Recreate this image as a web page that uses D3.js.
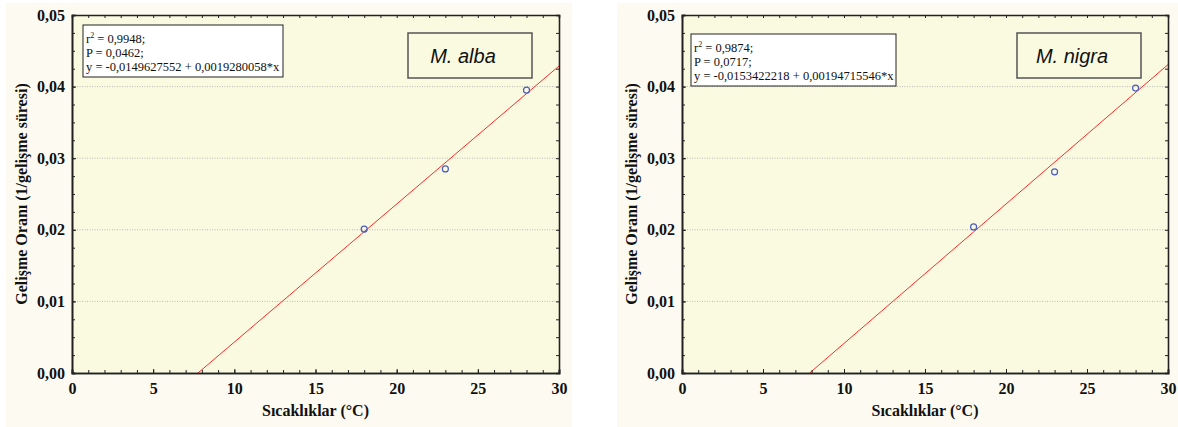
<!DOCTYPE html>
<html>
<head>
<meta charset="utf-8">
<script src="https://cdn.jsdelivr.net/npm/d3@7"></script>
<style>
  body { margin: 0; background: #ffffff; }
  svg { display: block; }
</style>
</head>
<body>
<div id="chart"></div>
<script>
// values
const temps = [18, 23, 28];
const albaRates = [0.0201, 0.0285, 0.0395];
const nigraRates = [0.0204, 0.0281, 0.0398];
const albaFit = [-0.0149627552, 0.0019280058];
const nigraFit = [-0.0153422218, 0.00194715546];
const albaStats = ["0,9948", "0,0462", "y = -0,0149627552 + 0,0019280058*x"];
const nigraStats = ["0,9874", "0,0717", "y = -0,0153422218 + 0,00194715546*x"];
const xTicks = [0, 5, 10, 15, 20, 25, 30];
const yTicks = [0, 0.01, 0.02, 0.03, 0.04, 0.05];
const xMinor = d3.range(0, 31, 1);
const yMinor = d3.range(0, 0.0501, 0.0025);

const width = 1178;
const height = 427;
const fmt = (d) => d3.format(".2f")(d).replace(".", ",");

const svg = d3
  .select("#chart")
  .append("svg")
  .attr("width", width)
  .attr("height", height);

function drawPanel(opts) {
  const g = svg.append("g").attr("transform", `translate(${opts.left},0)`);
  const margin = { top: 15, left: opts.plotLeft, bottom: 54 };
  const iwidth = opts.plotWidth;
  const iheight = height - margin.top - margin.bottom;

  g.append("rect")
    .attr("x", opts.bgLeft)
    .attr("y", 3)
    .attr("width", opts.bgWidth)
    .attr("height", height - 3)
    .attr("fill", "#fdfbf1");

  const p = g.append("g").attr("transform", `translate(${margin.left},${margin.top})`);

  const x = d3.scaleLinear().domain([0, 30]).range([0, iwidth]);
  const y = d3.scaleLinear().domain([0, 0.05]).range([iheight, 0]);

  p.append("rect")
    .attr("width", iwidth)
    .attr("height", iheight)
    .attr("fill", "#fafae1");

  const clipId = "clip-" + opts.id;
  p.append("clipPath").attr("id", clipId)
    .append("rect").attr("width", iwidth).attr("height", iheight);

  // grid
  p.append("g")
    .selectAll("line")
    .data(yTicks.slice(1, -1))
    .join("line")
    .attr("x1", 0)
    .attr("x2", iwidth)
    .attr("y1", (d) => y(d))
    .attr("y2", (d) => y(d))
    .attr("stroke", "#a8a8a8")
    .attr("stroke-width", 0.8)
    .attr("stroke-dasharray", "1,1.5");

  // fit line
  const fitX = [-opts.fit[0] / opts.fit[1], 30];
  p.append("line")
    .attr("clip-path", `url(#${clipId})`)
    .attr("x1", x(fitX[0]))
    .attr("y1", y(opts.fit[0] + opts.fit[1] * fitX[0]))
    .attr("x2", x(fitX[1]))
    .attr("y2", y(opts.fit[0] + opts.fit[1] * fitX[1]))
    .attr("stroke", "#ff2a2a")
    .attr("stroke-width", 1);

  // points
  p.append("g")
    .selectAll("circle")
    .data(temps.map((t, i) => ({ t: t, v: opts.rates[i] })))
    .join("circle")
    .attr("cx", (d) => x(d.t))
    .attr("cy", (d) => y(d.v))
    .attr("r", 3)
    .attr("fill", "none")
    .attr("stroke", "#4a5cc0")
    .attr("stroke-width", 1.2);

  // axes
  const styleAxis = (sel) => {
    sel.select(".domain").attr("stroke", "#222").attr("stroke-width", 1.6);
    sel.selectAll(".tick line").attr("stroke", "#222");
    sel.selectAll("text")
      .attr("fill", "#111")
      .style("font-family", "'Liberation Serif', 'Times New Roman', serif")
      .style("font-weight", "bold")
      .style("font-size", "16px");
  };

  p.append("g")
    .attr("transform", `translate(0,${iheight})`)
    .call(d3.axisBottom(x).tickValues(xMinor).tickSize(-3).tickFormat(""))
    .call(styleAxis);
  p.append("g")
    .attr("transform", `translate(0,${iheight})`)
    .call(d3.axisBottom(x).tickValues(xTicks).tickSize(-4).tickPadding(10).tickFormat((d) => d))
    .call(styleAxis);
  p.append("g")
    .call(d3.axisTop(x).tickValues(xMinor).tickSize(-3).tickFormat(""))
    .call(styleAxis);

  p.append("g")
    .call(d3.axisLeft(y).tickValues(yMinor).tickSize(-3).tickFormat(""))
    .call(styleAxis);
  p.append("g")
    .call(d3.axisLeft(y).tickValues(yTicks).tickSize(-4).tickPadding(7).tickFormat(fmt))
    .call(styleAxis);
  p.append("g")
    .attr("transform", `translate(${iwidth},0)`)
    .call(d3.axisRight(y).tickValues(yMinor).tickSize(-3).tickFormat(""))
    .call(styleAxis);

  // axis titles
  g.append("text")
    .attr("x", margin.left + iwidth / 2)
    .attr("y", 416)
    .attr("text-anchor", "middle")
    .style("font-family", "'Liberation Serif', 'Times New Roman', serif")
    .style("font-weight", "bold")
    .style("font-size", "16px")
    .attr("fill", "#111")
    .text("Sıcaklıklar (°C)");

  g.append("text")
    .attr("transform", `translate(${margin.left - 45},${margin.top + iheight / 2}) rotate(-90)`)
    .attr("text-anchor", "middle")
    .style("font-family", "'Liberation Serif', 'Times New Roman', serif")
    .style("font-weight", "bold")
    .style("font-size", "16px")
    .attr("fill", "#111")
    .text("Gelişme Oranı (1/gelişme süresi)");

  // stats box
  const sb = g.append("g").attr("transform", `translate(${opts.statsX},${opts.statsY})`);
  sb.append("rect")
    .attr("width", opts.statsW)
    .attr("height", 52)
    .attr("fill", "#ffffff")
    .attr("stroke", "#222")
    .attr("stroke-width", 1);
  const st = sb.append("text")
    .style("font-family", "'Liberation Serif', 'Times New Roman', serif")
    .style("font-size", "12.5px")
    .attr("fill", "#111");
  const l1 = st.append("tspan").attr("x", 3).attr("y", 18);
  l1.append("tspan").text("r");
  l1.append("tspan").attr("dy", -5).style("font-size", "8px").text("2");
  l1.append("tspan").attr("dy", 5).text(" = " + opts.stats[0] + ";");
  st.append("tspan").attr("x", 3).attr("y", 32).text("P = " + opts.stats[1] + ";");
  st.append("tspan").attr("x", 3).attr("y", 46).text(opts.stats[2]);

  // species label box
  const lb = g.append("g").attr("transform", `translate(${opts.labelX},33)`);
  lb.append("rect")
    .attr("width", 124)
    .attr("height", 45)
    .attr("fill", "#fafae1")
    .attr("stroke", "#555")
    .attr("stroke-width", 1.5);
  lb.append("text")
    .attr("x", 55)
    .attr("y", 30)
    .attr("text-anchor", "middle")
    .style("font-family", "'Liberation Sans', Arial, sans-serif")
    .style("font-style", "italic")
    .style("font-size", "20px")
    .attr("fill", "#111")
    .text(opts.name);
}

drawPanel({
  id: "alba", left: 0, bgLeft: 6, bgWidth: 566,
  plotLeft: 72, plotWidth: 487,
  rates: albaRates, fit: albaFit, stats: albaStats,
  statsX: 83, statsY: 25, statsW: 200,
  labelX: 408, name: "M. alba"
});

drawPanel({
  id: "nigra", left: 610, bgLeft: 7, bgWidth: 561,
  plotLeft: 72, plotWidth: 486,
  rates: nigraRates, fit: nigraFit, stats: nigraStats,
  statsX: 81, statsY: 34, statsW: 205,
  labelX: 407, name: "M. nigra"
});
</script>
</body>
</html>
